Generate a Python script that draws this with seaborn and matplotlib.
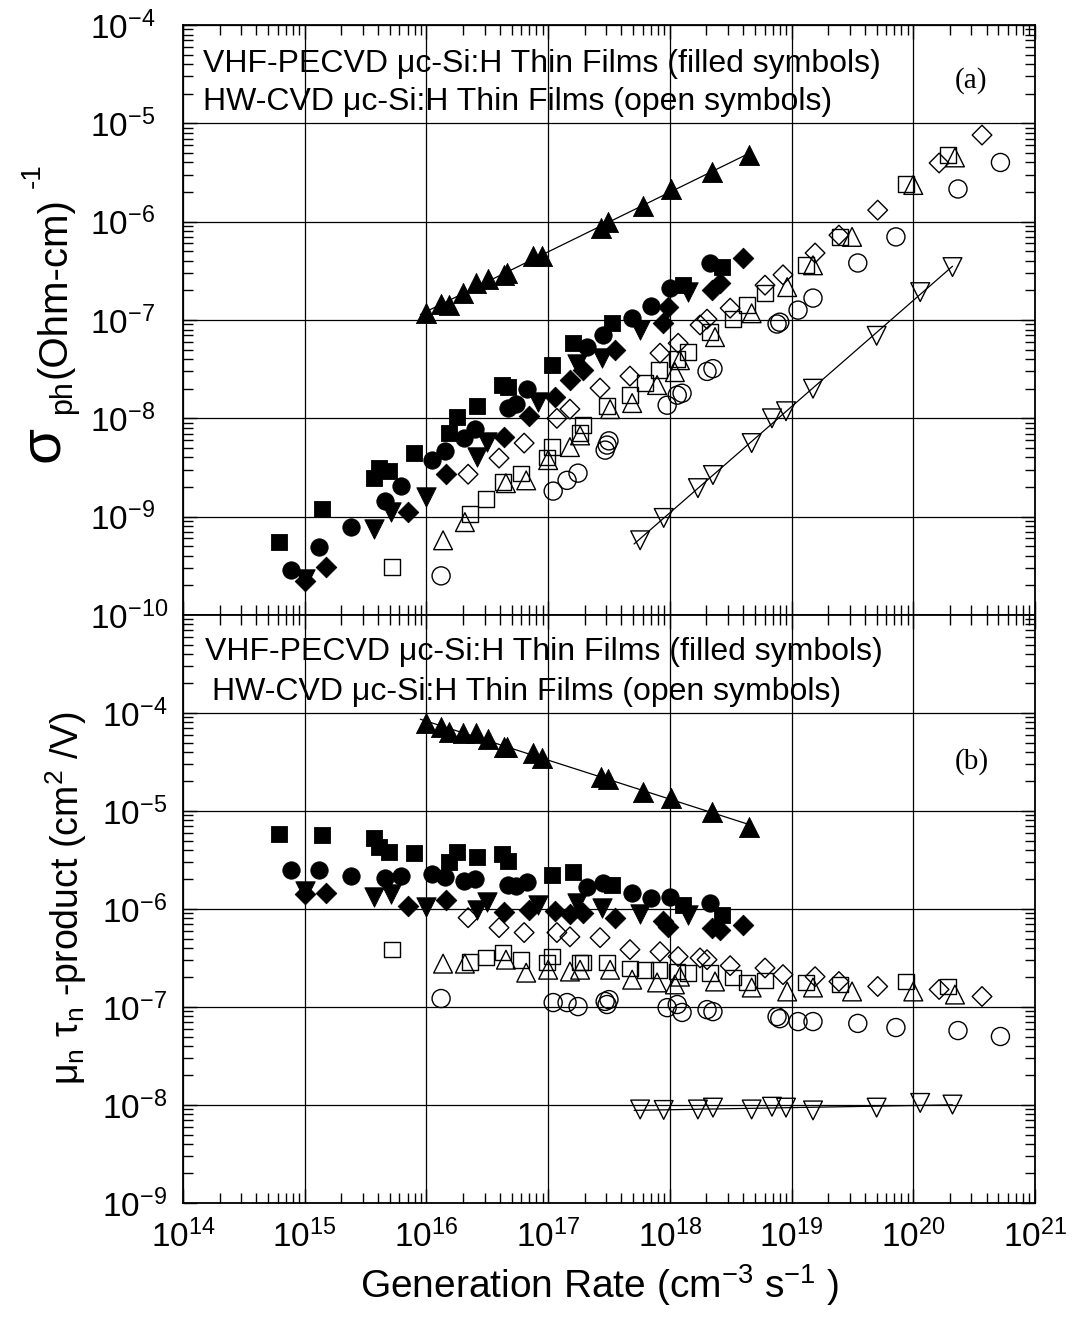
import numpy as np
import matplotlib
matplotlib.use("Agg")
import matplotlib.pyplot as plt
import seaborn as sns
from matplotlib.ticker import LogLocator, NullFormatter

# ---------------- data ----------------
# VHF-PECVD (filled symbols)
gen_tri_f = [1.0e16, 1.32e16, 1.53e16, 2.0e16, 2.55e16, 3.2e16, 4.35e16, 4.6e16, 7.5e16, 8.9e16,
             2.7e17, 3.1e17, 6.0e17, 1.02e18, 2.2e18, 4.5e18]
sig_tri_f = [1.17e-7, 1.45e-7, 1.42e-7, 1.87e-7, 2.4e-7, 2.6e-7, 2.9e-7, 3.0e-7, 4.5e-7, 4.5e-7,
             8.6e-7, 1.0e-6, 1.44e-6, 2.15e-6, 3.2e-6, 4.75e-6]
mt_tri_f = [7.9e-5, 7.2e-5, 6.4e-5, 6.3e-5, 6.3e-5, 5.45e-5, 4.5e-5, 4.5e-5, 3.9e-5, 3.5e-5,
            2.2e-5, 2.1e-5, 1.58e-5, 1.36e-5, 9.8e-6, 6.9e-6]

gen_sq_f = [6.2e14, 1.39e15, 3.7e15, 4.1e15, 4.9e15, 7.9e15, 1.53e16, 1.78e16, 2.6e16, 4.2e16,
            4.7e16, 1.08e17, 1.6e17, 3.35e17, 1.28e18, 2.7e18]
sig_sq_f = [5.5e-10, 1.2e-9, 2.5e-9, 3.1e-9, 2.9e-9, 4.4e-9, 7.1e-9, 1.02e-8, 1.33e-8, 2.2e-8,
            2.1e-8, 3.5e-8, 5.8e-8, 9.3e-8, 2.26e-7, 3.45e-7]
mt_sq_f = [5.86e-6, 5.7e-6, 5.33e-6, 4.3e-6, 3.84e-6, 3.75e-6, 3.03e-6, 3.84e-6, 3.4e-6, 3.66e-6,
           3.1e-6, 2.24e-6, 2.4e-6, 1.77e-6, 1.1e-6, 8.7e-7]

gen_ci_f = [7.7e14, 1.31e15, 2.4e15, 4.57e15, 6.2e15, 1.11e16, 1.42e16, 2.04e16, 2.5e16, 4.7e16,
            5.45e16, 6.7e16, 2.09e17, 2.83e17, 4.9e17, 7.0e17, 1.0e18, 2.14e18]
sig_ci_f = [2.9e-10, 4.9e-10, 7.8e-10, 1.44e-9, 2.04e-9, 3.76e-9, 4.6e-9, 6.3e-9, 7.8e-9, 1.27e-8,
            1.39e-8, 1.99e-8, 5.3e-8, 7.0e-8, 1.05e-7, 1.38e-7, 2.1e-7, 3.8e-7]
mt_ci_f = [2.5e-6, 2.5e-6, 2.18e-6, 2.08e-6, 2.18e-6, 2.29e-6, 2.13e-6, 1.94e-6, 2.03e-6, 1.77e-6,
           1.73e-6, 1.9e-6, 1.69e-6, 1.86e-6, 1.47e-6, 1.3e-6, 1.33e-6, 1.16e-6]

gen_vt_f = [1.0e15, 3.7e15, 5.1e15, 9.9e15, 2.6e16, 3.15e16, 8.3e16, 1.73e17, 2.77e17, 5.7e17, 1.41e18]
sig_vt_f = [2.3e-10, 7.5e-10, 1.11e-9, 1.58e-9, 4.0e-9, 5.7e-9, 1.46e-8, 3.6e-8, 4.1e-8, 7.9e-8, 1.92e-7]
mt_vt_f = [1.54e-6, 1.33e-6, 1.43e-6, 1.05e-6, 9.8e-7, 1.19e-6, 1.1e-6, 1.16e-6, 1.03e-6, 8.95e-7, 8.75e-7]

gen_di_f = [1.0e15, 1.5e15, 7.1e15, 1.45e16, 4.35e16, 7.0e16, 1.14e17, 1.51e17, 1.94e17, 3.55e17,
            8.8e17, 9.7e17, 2.2e18, 2.6e18, 4.0e18]
sig_di_f = [2.2e-10, 3.06e-10, 1.11e-9, 2.7e-9, 6.4e-9, 1.05e-8, 1.64e-8, 2.45e-8, 3.1e-8, 4.9e-8,
            9.3e-8, 1.35e-7, 2.0e-7, 2.4e-7, 4.3e-7]
mt_di_f = [1.43e-6, 1.47e-6, 1.08e-6, 1.24e-6, 9.4e-7, 9.8e-7, 9.6e-7, 8.95e-7, 9.2e-7, 8.15e-7,
           7.6e-7, 6.6e-7, 6.45e-7, 6.15e-7, 6.9e-7]

# HW-CVD (open symbols)
gen_sq_o = [5.2e15, 2.28e16, 3.09e16, 4.26e16, 5.98e16, 9.8e16, 1.08e17, 1.83e17, 1.94e17, 3.05e17,
            4.7e17, 6.25e17, 8.15e17, 1.15e18, 1.41e18, 2.14e18, 3.3e18, 4.3e18, 6.05e18, 1.32e19,
            2.5e19, 8.7e19, 1.93e20]
sig_sq_o = [3.06e-10, 1.06e-9, 1.51e-9, 2.24e-9, 2.75e-9, 4.0e-9, 5.1e-9, 7.1e-9, 8.5e-9, 1.33e-8,
            1.72e-8, 2.28e-8, 3.1e-8, 4.0e-8, 4.7e-8, 7.5e-8, 1.02e-7, 1.41e-7, 1.88e-7, 3.6e-7,
            7.0e-7, 2.4e-6, 4.8e-6]
mt_sq_o = [3.85e-7, 2.9e-7, 3.19e-7, 3.59e-7, 3.04e-7, 2.84e-7, 3.27e-7, 2.84e-7, 2.84e-7, 2.84e-7,
           2.47e-7, 2.4e-7, 2.4e-7, 2.3e-7, 2.24e-7, 2.24e-7, 2.0e-7, 1.78e-7, 1.86e-7, 1.78e-7,
           1.7e-7, 1.82e-7, 1.62e-7]

gen_tr_o = [1.37e16, 2.07e16, 4.5e16, 6.6e16, 1.0e17, 1.51e17, 1.83e17, 3.23e17, 4.9e17, 7.85e17,
            1.1e18, 1.21e18, 2.35e18, 4.7e18, 9.2e18, 1.5e19, 3.14e19, 1.0e20, 2.2e20]
sig_tr_o = [5.75e-10, 8.8e-10, 2.19e-9, 2.34e-9, 3.76e-9, 5.1e-9, 6.7e-9, 1.24e-8, 1.43e-8, 2.18e-8,
            2.95e-8, 3.9e-8, 6.7e-8, 1.17e-7, 2.16e-7, 3.6e-7, 7.0e-7, 2.36e-6, 4.5e-6]
mt_tr_o = [2.77e-7, 2.77e-7, 3.04e-7, 2.24e-7, 2.4e-7, 2.3e-7, 2.4e-7, 2.4e-7, 1.9e-7, 1.78e-7,
           1.7e-7, 2.04e-7, 1.82e-7, 1.58e-7, 1.44e-7, 1.58e-7, 1.44e-7, 1.44e-7, 1.34e-7]

gen_di_o = [2.2e16, 3.95e16, 6.35e16, 1.18e17, 1.51e17, 2.67e17, 4.7e17, 8.3e17, 1.17e18, 1.77e18,
            2.02e18, 3.13e18, 6.05e18, 8.5e18, 1.56e19, 2.45e19, 5.1e19, 1.63e20, 3.67e20]
sig_di_o = [2.7e-9, 3.94e-9, 5.6e-9, 1.0e-8, 1.24e-8, 2.03e-8, 2.69e-8, 4.6e-8, 5.8e-8, 8.9e-8,
            1.02e-7, 1.32e-7, 2.26e-7, 2.88e-7, 4.8e-7, 7.3e-7, 1.31e-6, 3.95e-6, 7.6e-6]
mt_di_o = [8.15e-7, 6.45e-7, 5.75e-7, 5.75e-7, 5.2e-7, 5.1e-7, 3.85e-7, 3.67e-7, 3.27e-7, 3.17e-7,
           3.04e-7, 2.64e-7, 2.5e-7, 2.14e-7, 2.04e-7, 1.82e-7, 1.62e-7, 1.51e-7, 1.28e-7]

gen_ci_o = [1.32e16, 1.1e17, 1.43e17, 1.76e17, 2.94e17, 3.05e17, 3.16e17, 9.5e17, 1.15e18, 1.26e18,
            2.02e18, 2.26e18, 7.6e18, 8.0e18, 1.13e19, 1.5e19, 3.5e19, 7.2e19, 2.33e20, 5.2e20]
sig_ci_o = [2.5e-10, 1.82e-9, 2.34e-9, 2.77e-9, 4.75e-9, 5.35e-9, 5.9e-9, 1.36e-8, 1.72e-8, 1.8e-8,
            3.0e-8, 3.2e-8, 9.1e-8, 9.5e-8, 1.26e-7, 1.67e-7, 3.8e-7, 7.0e-7, 2.15e-6, 4.0e-6]
mt_ci_o = [1.22e-7, 1.11e-7, 1.11e-7, 1.01e-7, 1.14e-7, 1.06e-7, 1.19e-7, 9.85e-8, 1.06e-7, 8.8e-8,
           9.4e-8, 8.97e-8, 7.98e-8, 7.6e-8, 7.1e-8, 7.1e-8, 6.8e-8, 6.17e-8, 5.75e-8, 5.0e-8]

gen_vt_o = [5.7e17, 8.9e17, 1.7e18, 2.26e18, 4.7e18, 6.9e18, 9.0e18, 1.5e19, 5.0e19, 1.14e20, 2.1e20]
sig_vt_o = [5.75e-10, 9.7e-10, 1.95e-9, 2.65e-9, 5.6e-9, 1.0e-8, 1.18e-8, 2.0e-8, 6.9e-8, 1.92e-7, 3.45e-7]
mt_vt_o = [9.0e-9, 8.9e-9, 9.0e-9, 9.4e-9, 9.0e-9, 9.6e-9, 9.4e-9, 8.8e-9, 9.4e-9, 1.05e-8, 1.01e-8]

x_ticks = [1e14, 1e15, 1e16, 1e17, 1e18, 1e19, 1e20, 1e21]
y_ticks_top = [1e-10, 1e-9, 1e-8, 1e-7, 1e-6, 1e-5, 1e-4]
y_ticks_bot = [1e-9, 1e-8, 1e-7, 1e-6, 1e-5, 1e-4]

text_vhf = "VHF-PECVD \u03bcc-Si:H Thin Films (filled symbols)"
text_hw = "HW-CVD \u03bcc-Si:H Thin Films (open symbols)"

# ---------------- style ----------------
sns.set_style("ticks")
plt.rcParams["font.family"] = ["Liberation Sans", "DejaVu Sans"]
plt.rcParams["mathtext.fontset"] = "custom"
plt.rcParams["mathtext.rm"] = "Liberation Sans"
plt.rcParams["mathtext.it"] = "Liberation Sans:italic"
plt.rcParams["mathtext.bf"] = "Liberation Sans:bold"
plt.rcParams["mathtext.default"] = "regular"
for key in ("text.color", "axes.labelcolor", "xtick.color", "ytick.color", "axes.edgecolor"):
    plt.rcParams[key] = "black"

W, H = 1077, 1326
fig = plt.figure(figsize=(W / 100, H / 100), dpi=100)
L, R = 183, 1035
ax1 = fig.add_axes([L / W, 1 - 615 / H, (R - L) / W, (615 - 25) / H])
ax2 = fig.add_axes([L / W, 1 - 1203 / H, (R - L) / W, (1203 - 615) / H])

# (gen, sigma, mutau, marker, filled, markersize_pt, fit_line)
series = [
    (gen_sq_o, sig_sq_o, mt_sq_o, "s", False, 11.3, False),
    (gen_tr_o, sig_tr_o, mt_tr_o, "^", False, 13.5, False),
    (gen_di_o, sig_di_o, mt_di_o, "D", False, 10.0, False),
    (gen_ci_o, sig_ci_o, mt_ci_o, "o", False, 13.0, False),
    (gen_vt_o, sig_vt_o, mt_vt_o, "v", False, 13.5, True),
    (gen_sq_f, sig_sq_f, mt_sq_f, "s", True, 12.0, False),
    (gen_ci_f, sig_ci_f, mt_ci_f, "o", True, 12.5, False),
    (gen_vt_f, sig_vt_f, mt_vt_f, "v", True, 14.0, False),
    (gen_di_f, sig_di_f, mt_di_f, "D", True, 10.5, False),
    (gen_tri_f, sig_tri_f, mt_tri_f, "^", True, 14.5, True),
]

for ax in (ax1, ax2):
    ax.set_xscale("log")
    ax.set_yscale("log")

for gen, sig, mt, mk, filled, ms, fit in series:
    for ax, yv in ((ax1, sig), (ax2, mt)):
        gx = np.asarray(gen, dtype=float)
        gy = np.asarray(yv, dtype=float)
        if fit:
            lx, ly = np.log10(gx), np.log10(gy)
            p = np.polyfit(lx, ly, 1)
            xs = np.array([lx.min() - 0.05, lx.max()])
            sns.lineplot(x=10 ** xs, y=10 ** np.polyval(p, xs), ax=ax, color="black",
                         linewidth=0.9, zorder=2, legend=False)
        if filled:
            sns.scatterplot(x=gx, y=gy, ax=ax, marker=mk, s=ms ** 2, color="black",
                            edgecolor="black", linewidth=0.6, zorder=4, legend=False)
        else:
            sns.scatterplot(x=gx, y=gy, ax=ax, marker=mk, s=ms ** 2, color="black",
                            facecolor="none", edgecolor="black", linewidth=1.0, zorder=3,
                            legend=False)

for ax in (ax1, ax2):
    ax.set_xlim(1e14, 1e21)
    ax.set_xticks(x_ticks)
    ax.xaxis.set_minor_locator(LogLocator(base=10, subs=np.arange(2, 10), numticks=100))
    ax.xaxis.set_minor_formatter(NullFormatter())
    ax.yaxis.set_minor_locator(LogLocator(base=10, subs=np.arange(2, 10), numticks=100))
    ax.yaxis.set_minor_formatter(NullFormatter())
    ax.grid(True, which="major", color="black", linewidth=0.9)
    ax.tick_params(which="both", direction="in", top=True, right=True, bottom=True, left=True,
                   color="black", labelcolor="black")
    ax.tick_params(which="major", length=10, width=1.0, labelsize=24)
    ax.tick_params(which="minor", length=7, width=1.0)
    for sp in ax.spines.values():
        sp.set_linewidth(1.3)
        sp.set_color("black")
    ax.set_xlabel("")
    ax.set_ylabel("")

ax1.set_ylim(1e-10, 1e-4)
ax1.set_yticks(y_ticks_top)
ax2.set_ylim(1e-9, 1e-3)
ax2.set_yticks(y_ticks_bot)
ax1.tick_params(labelbottom=False)
ax2.tick_params(axis="x", which="major", pad=12)
ax1.tick_params(axis="y", which="major", pad=67)
ax2.tick_params(axis="y", which="major", pad=58)
for ax in (ax1, ax2):
    for lab in ax.get_yticklabels():
        lab.set_horizontalalignment("left")

# annotations
fs_note = 23
fig.text(203 / W, 1 - 72 / H, text_vhf, fontsize=fs_note, va="baseline", ha="left")
fig.text(203 / W, 1 - 110 / H, text_hw, fontsize=fs_note, va="baseline", ha="left")
fig.text(205 / W, 1 - 660 / H, text_vhf, fontsize=fs_note, va="baseline", ha="left")
fig.text(212 / W, 1 - 700 / H, text_hw, fontsize=fs_note, va="baseline", ha="left")
fig.text(971 / W, 1 - 81 / H, "(a)", fontsize=21, family="Liberation Serif", ha="center", va="center")
fig.text(972 / W, 1 - 762 / H, "(b)", fontsize=21, family="Liberation Serif", ha="center", va="center")

# axis labels
fig.text(600 / W, 1 - 1285 / H, "Generation Rate (cm$^{-3}$ s$^{-1}$ )", fontsize=28,
         ha="center", va="center")
fig.text(58 / W, 1 - 462 / H, "\u03c3", fontsize=42, rotation=90, rotation_mode="anchor",
         ha="left", va="baseline")
fig.text(71 / W, 1 - 414 / H, "ph", fontsize=22, rotation=90, rotation_mode="anchor",
         ha="left", va="baseline")
fig.text(66 / W, 1 - 378 / H, "(Ohm-cm)", fontsize=29, rotation=90, rotation_mode="anchor",
         ha="left", va="baseline")
fig.text(40 / W, 1 - 188 / H, "-1", fontsize=20, rotation=90, rotation_mode="anchor",
         ha="left", va="baseline")
fig.text(66 / W, 1 - 898 / H, "$\u03bc_n$ $\u03c4_n$ -product (cm$^{2}$ /V)", fontsize=27,
         rotation=90, ha="center", va="center")

fig.savefig("out.png", dpi=100, facecolor="white")
